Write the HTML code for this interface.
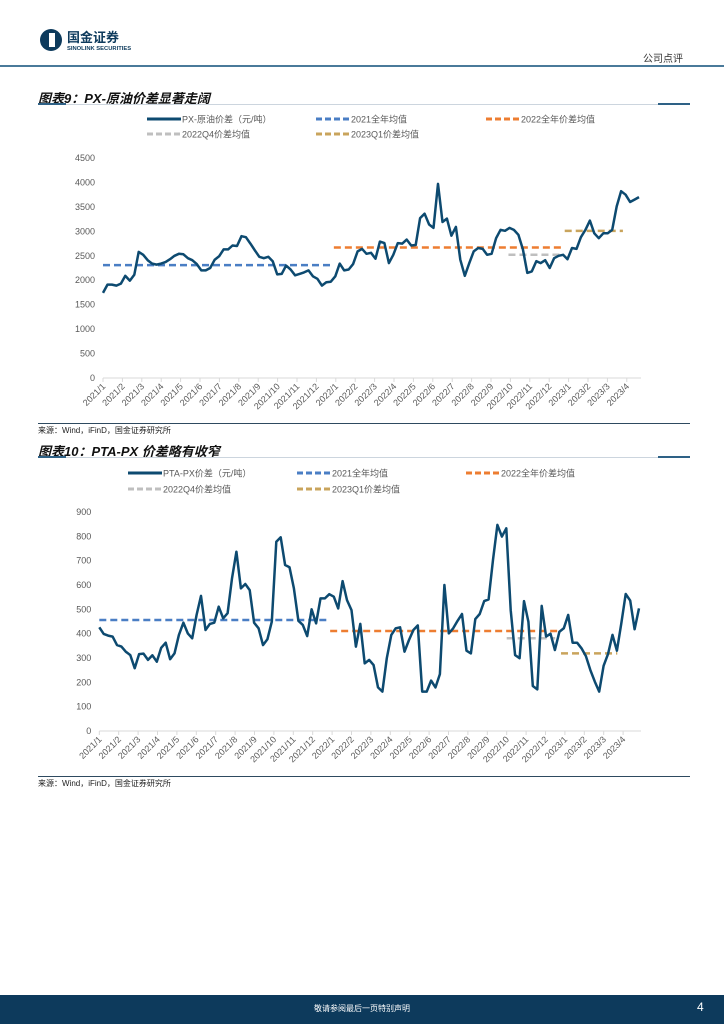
<!DOCTYPE html>
<html><head><meta charset="utf-8">
<style>
body{margin:0;width:724px;height:1024px;background:#fff;position:relative;overflow:hidden;font-family:"Liberation Sans","Noto Sans CJK SC",sans-serif;}
.abs{position:absolute;}
.title{font-weight:bold;font-style:italic;font-size:13px;color:#111;}
.src{font-size:8px;color:#222;}
</style></head><body>
<div class="abs" style="left:40px;top:28px;">
<svg width="110" height="26"><circle cx="11" cy="12" r="11" fill="#0d3a5c"/><rect x="9" y="5" width="6" height="14" fill="#fff"/>
<text x="27" y="14" font-size="13" font-weight="bold" fill="#0d3a5c" font-family="Noto Sans CJK SC,sans-serif">国金证券</text>
<text x="27" y="22" font-size="5.8" font-weight="bold" fill="#0d3a5c" font-family="Liberation Sans,sans-serif">SINOLINK SECURITIES</text></svg></div>
<div class="abs" style="left:643px;top:50px;font-size:10px;color:#333;">公司点评</div>
<div class="abs" style="left:0;top:65px;width:724px;height:2px;background:#4a7a9a;"></div>

<div class="abs title" style="left:38px;top:88px;">图表9：PX-原油价差显著走阔</div>
<div class="abs" style="left:38px;top:104px;width:652px;height:1px;background:#ccd5de;"></div>
<div class="abs" style="left:38px;top:103px;width:28px;height:2px;background:#2e6186;"></div>
<div class="abs" style="left:658px;top:103px;width:32px;height:2px;background:#2e6186;"></div>
<svg class="abs" style="left:0;top:110px" width="724" height="310" id="c1"></svg>
<div class="abs" style="left:38px;top:423px;width:652px;height:1px;background:#2e4a60;"></div>
<div class="abs src" style="left:38px;top:425px;">来源：Wind，iFinD，国金证券研究所</div>

<div class="abs title" style="left:38px;top:441px;">图表10：PTA-PX 价差略有收窄</div>
<div class="abs" style="left:38px;top:457px;width:652px;height:1px;background:#ccd5de;"></div>
<div class="abs" style="left:38px;top:456px;width:28px;height:2px;background:#2e6186;"></div>
<div class="abs" style="left:658px;top:456px;width:32px;height:2px;background:#2e6186;"></div>
<svg class="abs" style="left:0;top:463px" width="724" height="313" id="c2"></svg>
<div class="abs" style="left:38px;top:776px;width:652px;height:1px;background:#2e4a60;"></div>
<div class="abs src" style="left:38px;top:778px;">来源：Wind，iFinD，国金证券研究所</div>

<div class="abs" style="left:0;top:995px;width:724px;height:29px;background:#0d3a5c;"></div>
<div class="abs" style="left:0;top:1003px;width:724px;text-align:center;font-size:8px;color:#fff;">敬请参阅最后一页特别声明</div>
<div class="abs" style="left:697px;top:1000px;font-size:12px;color:#fff;">4</div>

<script>
const months=["2021/1","2021/2","2021/3","2021/4","2021/5","2021/6","2021/7","2021/8","2021/9","2021/10","2021/11","2021/12","2022/1","2022/2","2022/3","2022/4","2022/5","2022/6","2022/7","2022/8","2022/9","2022/10","2022/11","2022/12","2023/1","2023/2","2023/3","2023/4"];
const pxSeries=[1740,1910,1910,1890,1930,2090,1990,2110,2580,2520,2410,2340,2320,2340,2370,2430,2500,2540,2530,2450,2410,2330,2200,2200,2250,2420,2490,2630,2630,2710,2700,2900,2880,2750,2610,2480,2450,2480,2390,2120,2130,2300,2220,2100,2130,2160,2200,2080,2030,1890,1960,1970,2080,2340,2200,2220,2330,2590,2640,2540,2560,2440,2790,2760,2350,2520,2760,2750,2830,2710,2720,3270,3360,3140,3070,3970,3190,3260,2910,3090,2420,2090,2350,2590,2660,2640,2520,2540,2860,3030,3010,3070,3030,2930,2630,2150,2180,2390,2350,2410,2250,2450,2500,2520,2430,2660,2640,2880,3030,3220,2960,2860,2960,2960,3030,3510,3820,3750,3600,3650,3700];
const pxAvgValues=[2310,2670,2520,3010];
const pxAvgSpans=[[0,11.8],[11.9,23.7],[20.9,23.7],[23.8,26.8]];
const pxTicks=[0,500,1000,1500,2000,2500,3000,3500,4000,4500];
const ptaSeries=[426,399,392,388,353,347,326,312,258,316,318,292,311,285,342,363,295,319,395,445,401,381,477,555,415,440,445,511,463,484,627,737,586,604,579,445,422,353,377,449,778,796,682,673,586,453,436,390,500,442,545,545,562,552,504,616,538,497,347,440,278,292,271,179,162,299,395,422,426,326,374,415,434,162,162,207,179,234,600,401,422,453,481,330,319,460,481,534,541,703,847,799,833,497,312,299,534,449,185,171,514,388,400,333,408,422,477,363,363,340,308,251,203,162,268,316,395,330,442,563,536,418,504];
const ptaAvgValues=[456,411,381,319];
const ptaAvgSpans=[[0,11.8],[11.9,23.7],[21,23.5],[23.8,26.7]];
const ptaTicks=[0,100,200,300,400,500,600,700,800,900];
const avgColors=["#4a7ec4","#ed7d31","#bfbfbf","#c9a45c"];
const NS="http://www.w3.org/2000/svg";
function mk(svg,tag,attrs){const e=document.createElementNS(NS,tag);for(const k in attrs)e.setAttribute(k,attrs[k]);svg.appendChild(e);return e;}
function draw(id,cfg){
 const svg=document.getElementById(id);
 const yS=v=>cfg.y0-(v/cfg.max)*(cfg.y0-cfg.yTop);
 const xM=m=>cfg.x0+m*19.4;
 const n=cfg.series.length;
 const xI=i=>cfg.x0+i*(cfg.xEnd-cfg.x0)/(n-1);
 const L=cfg.leg;
 const items=[[L.c1,L.r1,cfg.name,"#0d4a70",0],[L.c2,L.r1,"2021全年均值",avgColors[0],1],[L.c3,L.r1,"2022全年价差均值",avgColors[1],1],[L.c1,L.r2,"2022Q4价差均值",avgColors[2],1],[L.c2,L.r2,"2023Q1价差均值",avgColors[3],1]];
 items.forEach(it=>{
  const g=mk(svg,"g",{});
  
  
  const ln=document.createElementNS(NS,"line");
  [["x1",it[0]],["x2",it[0]+34],["y1",it[1]],["y2",it[1]],["stroke",it[3]],["stroke-width",3]].forEach(a=>ln.setAttribute(a[0],a[1]));
  if(it[4])ln.setAttribute("stroke-dasharray","6 3");
  g.appendChild(ln);
  const t=document.createElementNS(NS,"text");
  t.setAttribute("x",it[0]+35);t.setAttribute("y",it[1]+3.5);t.setAttribute("font-size","9");t.setAttribute("fill","#595959");
  t.textContent=it[2];g.appendChild(t);
 });
 cfg.ticks.forEach(v=>{
  const t=mk(svg,"text",{x:cfg.x0-8,y:yS(v)+3,"font-size":"9","fill":"#595959","text-anchor":"end"});
  
  
  t.textContent=v;
 });
 const ax=mk(svg,"line",{x1:cfg.x0,x2:cfg.xEnd+2,y1:cfg.y0,y2:cfg.y0,stroke:"#d9d9d9","stroke-width":1});
 
 
 months.forEach((m,i)=>{
  const x=xM(i);
  mk(svg,"line",{x1:x,x2:x,y1:cfg.y0,y2:cfg.y0+4,stroke:"#d9d9d9"});
  const t=mk(svg,"text",{x:x+3,y:cfg.y0+9,"font-size":"9","fill":"#595959","text-anchor":"end",transform:`rotate(-45 ${x+3} ${cfg.y0+9})`});
  
  
  t.textContent=m;
 });
 cfg.avgV.forEach((v,k)=>{
  const l=mk(svg,"line",{x1:xM(cfg.avgS[k][0]),x2:xM(cfg.avgS[k][1]),y1:yS(v),y2:yS(v),stroke:avgColors[k],"stroke-width":2.5,"stroke-dasharray":"7 4"});
  
  
 });
 const p=mk(svg,"polyline",{points:cfg.series.map((v,i)=>xI(i).toFixed(1)+","+yS(v).toFixed(1)).join(" "),fill:"none",stroke:"#0d4a70","stroke-width":2.5,"stroke-linejoin":"round"});
 
 
}
draw("c1",{series:pxSeries,name:"PX-原油价差（元/吨）",avgV:pxAvgValues,avgS:pxAvgSpans,ticks:pxTicks,max:4500,x0:103,xEnd:639,y0:268,yTop:48,leg:{c1:147,c2:316,c3:486,r1:9,r2:24}});
draw("c2",{series:ptaSeries,name:"PTA-PX价差（元/吨）",avgV:ptaAvgValues,avgS:ptaAvgSpans,ticks:ptaTicks,max:900,x0:99.3,xEnd:639,y0:268,yTop:49,leg:{c1:128,c2:297,c3:466,r1:10,r2:26}});
</script>
</body></html>
